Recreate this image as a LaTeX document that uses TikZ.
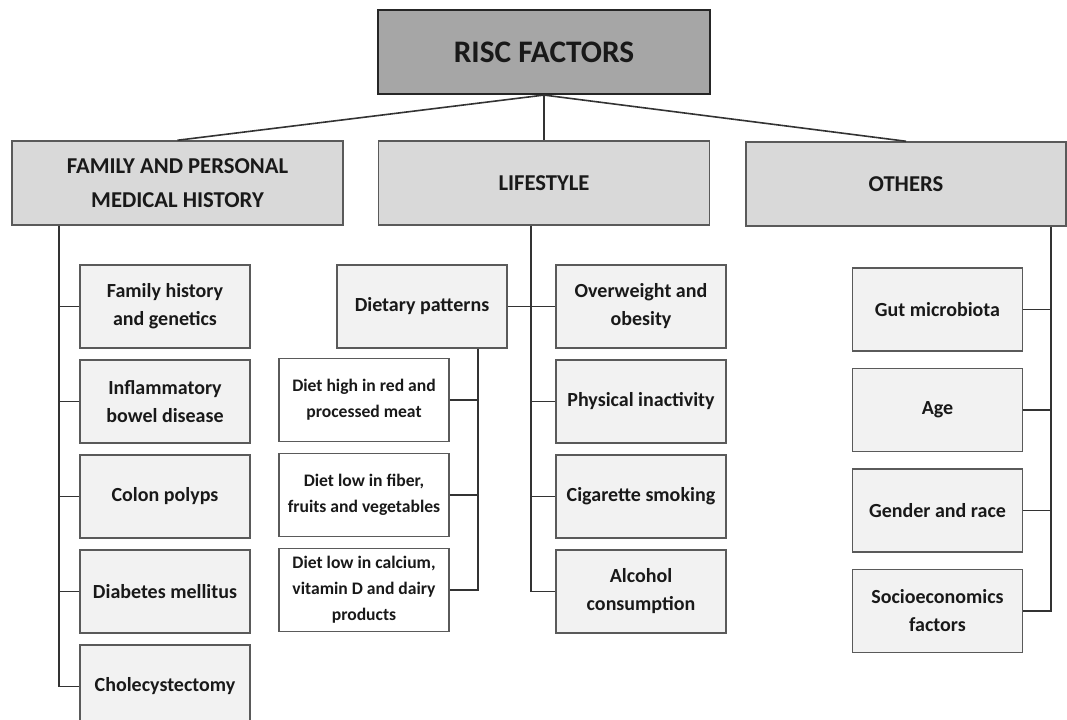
\documentclass[tikz,border=0pt]{standalone}
\usepackage{fontspec}
\setmainfont{Carlito}
\usetikzlibrary{positioning}
\definecolor{toppgraa}{HTML}{A6A6A6}
\definecolor{gruppegraa}{HTML}{D9D9D9}
\definecolor{lysgraa}{HTML}{F2F2F2}
\definecolor{kant}{HTML}{5A5A5A}
\tikzset{
    %Define common box
    boks/.style={
           rectangle,
           draw=kant, line width=1.1pt,
           align=center,
           inner sep=2pt,
           text=black!90,
           font=\bfseries\fontsize{15}{21}\selectfont},
    %Top box
    toppboks/.style={
           boks,
           fill=toppgraa, draw=black!85, line width=1.6pt,
           minimum width=249pt,
           minimum height=63pt,
           font=\bfseries\fontsize{23.5}{28}\selectfont},
    %Group boxes
    gruppe/.style={
           boks,
           fill=gruppegraa,
           minimum width=248.25pt,
           minimum height=63pt,
           font=\bfseries\fontsize{17}{25}\selectfont},
    %Factor boxes
    faktor/.style={
           boks,
           fill=lysgraa,
           minimum width=127.5pt,
           minimum height=62.25pt},
    diett/.style={
           faktor,
           fill=white,
           font=\bfseries\fontsize{13.2}{19.5}\selectfont},
    % Define line style
    linje/.style={
           draw=black!80,
           line width=1.2pt}
}

\begin{document}
\begin{tikzpicture}[x=0.75pt,y=-0.75pt,node distance=7.9pt]
    \useasboundingbox (0,0) rectangle (1067,720);
    \clip (0,0) rectangle (1067,720);
    \node (risc) [toppboks] at (544,52) {RISC FACTORS};
    \node (fam) [gruppe] at (177.5,183) {FAMILY AND PERSONAL\\MEDICAL HISTORY};
    \node (life) [gruppe] at (544,183) {LIFESTYLE};
    \node (oth) [gruppe,minimum width=240pt] at (906,184) {OTHERS};
    \draw [linje] (risc.south) -- (fam.north);
    \draw [linje] (risc.south) -- (life.north);
    \draw [linje] (risc.south) -- (oth.north);

    % family and personal medical history
    \node (fh1) [faktor] at (165,306.5) {Family history\\and genetics};
    \node (fh2) [faktor] [below=of fh1] {Inflammatory\\bowel disease};
    \node (fh3) [faktor] [below=of fh2] {Colon polyps};
    \node (fh4) [faktor] [below=of fh3] {Diabetes mellitus};
    \node (fh5) [faktor] [below=of fh4] {Cholecystectomy};
    \coordinate (famspine) at ([xshift=36pt]fam.south west);
    \draw [linje] (famspine) |- (fh5.west);
    \foreach \n in {fh1,fh2,fh3,fh4}
      \draw [linje] (\n.west) -- (\n.west -| famspine);

    % lifestyle
    \node (ls1) [faktor] at (641,306.5) {Overweight and\\obesity};
    \node (ls2) [faktor] [below=of ls1] {Physical inactivity};
    \node (ls3) [faktor] [below=of ls2] {Cigarette smoking};
    \node (ls4) [faktor] [below=of ls3] {Alcohol\\consumption};
    \node (diet) [faktor] at (422,306.5) {Dietary patterns};
    \coordinate (lifespine) at ([xshift=-9.75pt]life.south);
    \draw [linje] (lifespine) |- (ls4.west);
    \draw [linje] (diet.east) -- (ls1.west);
    \foreach \n in {ls2,ls3}
      \draw [linje] (\n.west) -- (\n.west -| lifespine);

    % dietary patterns
    \node (dt1) [diett] at (364,400) {Diet high in red and\\processed meat};
    \node (dt2) [diett] [below=of dt1] {Diet low in fiber,\\fruits and vegetables};
    \node (dt3) [diett] [below=of dt2] {Diet low in calcium,\\vitamin D and dairy\\products};
    \coordinate (dietspine) at ([xshift=-22.5pt]diet.south east);
    \draw [linje] (dietspine) |- (dt3.east);
    \foreach \n in {dt1,dt2}
      \draw [linje] (\n.east) -- (\n.east -| dietspine);

    % others
    \node (ot1) [faktor] at (937.5,309.5) {Gut microbiota};
    \node (ot2) [faktor] [below=12pt of ot1] {Age};
    \node (ot3) [faktor] [below=12pt of ot2] {Gender and race};
    \node (ot4) [faktor] [below=12pt of ot3] {Socioeconomics\\factors};
    \coordinate (othspine) at ([xshift=-12pt]oth.south east);
    \draw [linje] (othspine) |- (ot4.east);
    \foreach \n in {ot1,ot2,ot3}
      \draw [linje] (\n.east) -- (\n.east -| othspine);
\end{tikzpicture}
\end{document}
